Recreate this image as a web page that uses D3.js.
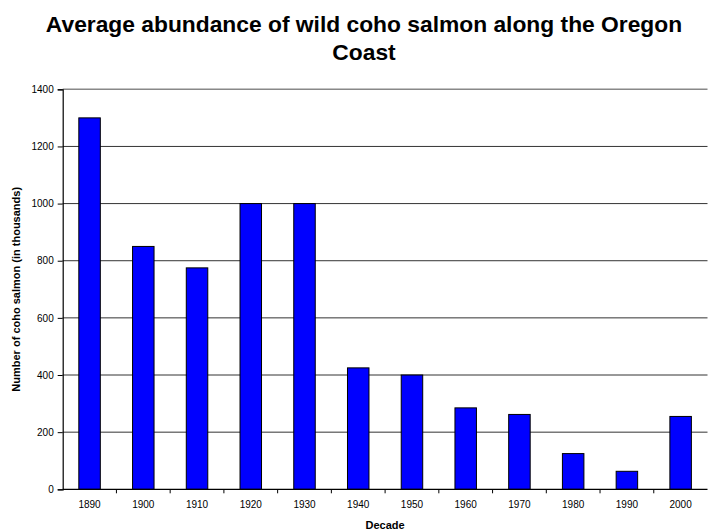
<!DOCTYPE html>
<html>
<head>
<meta charset="utf-8">
<script src="https://cdn.jsdelivr.net/npm/d3@7"></script>
<style>
  html, body { margin: 0; padding: 0; background: #fff; }
  svg { display: block; font-family: "Liberation Sans", Arial, sans-serif; }
</style>
</head>
<body>
<svg id="chart" width="708" height="532"></svg>
<script>
// Decades on the x axis
const decades = ["1890", "1900", "1910", "1920", "1930", "1940", "1950", "1960", "1970", "1980", "1990", "2000"];
// Average abundance, thousands of fish
const abundance = [1300, 850, 775, 1000, 1000, 425, 400, 285, 262, 125, 63, 255];
// Value-axis ticks
const yTicks = [0, 200, 400, 600, 800, 1000, 1200, 1400];

const titleLines = ["Average abundance of wild coho salmon along the Oregon", "Coast"];

const svg = d3.select("#chart");
const plotLeft = 62.7, plotRight = 707.5, plotTop = 89.3, plotBottom = 489.3;

const x = d3.scaleBand()
  .domain(decades)
  .range([plotLeft, plotRight])
  .paddingInner(0.6)
  .paddingOuter(0.3);

const y = d3.scaleLinear().domain([0, 1400]).range([plotBottom, plotTop]);

// Horizontal gridlines
svg.append("g")
  .selectAll("line")
  .data(yTicks.filter(t => t > 0 && t < 1400))
  .join("line")
  .attr("x1", plotLeft).attr("x2", plotRight)
  .attr("y1", d => y(d)).attr("y2", d => y(d))
  .attr("stroke", "#333").attr("stroke-width", 1);

// Top frame line
svg.append("line")
  .attr("x1", plotLeft).attr("x2", plotRight)
  .attr("y1", y(1400)).attr("y2", y(1400))
  .attr("stroke", "#888").attr("stroke-width", 1.5);

// Bars
svg.append("g")
  .selectAll("rect")
  .data(decades.map((d, i) => ({ decade: d, value: abundance[i] })))
  .join("rect")
  .attr("x", d => x(d.decade))
  .attr("width", x.bandwidth())
  .attr("y", d => y(d.value))
  .attr("height", d => y(0) - y(d.value))
  .attr("fill", "#0000ff")
  .attr("stroke", "#000")
  .attr("stroke-width", 1);

// Y axis
const yAxis = svg.append("g")
  .attr("transform", `translate(${plotLeft},0)`)
  .call(d3.axisLeft(y).tickValues(yTicks).tickSize(5).tickPadding(4).tickFormat(d3.format("d")));
yAxis.select(".domain").attr("stroke", "#000").attr("stroke-width", 1.2);
yAxis.selectAll(".tick line").attr("stroke", "#000");
yAxis.selectAll("text").attr("font-size", 10).attr("fill", "#000")
  .attr("font-family", "'Liberation Sans', Arial, sans-serif");

// X axis: category labels, ticks at category boundaries
const xAxis = svg.append("g").attr("transform", `translate(0,${plotBottom})`);
xAxis.append("line")
  .attr("x1", plotLeft).attr("x2", plotRight)
  .attr("stroke", "#000").attr("stroke-width", 1.2);
xAxis.selectAll("line.sep")
  .data(decades.slice(1))
  .join("line")
  .attr("class", "sep")
  .attr("x1", d => x(d) - x.step() * x.paddingInner() / 2)
  .attr("x2", d => x(d) - x.step() * x.paddingInner() / 2)
  .attr("y1", 0).attr("y2", 4)
  .attr("stroke", "#000");
xAxis.selectAll("text")
  .data(decades)
  .join("text")
  .attr("x", d => x(d) + x.bandwidth() / 2)
  .attr("y", 19)
  .attr("text-anchor", "middle")
  .attr("font-size", 10)
  .text(d => d);

// Title
svg.append("text")
  .attr("text-anchor", "middle")
  .attr("font-size", 22.8)
  .attr("font-weight", "bold")
  .selectAll("tspan")
  .data(titleLines)
  .join("tspan")
  .attr("x", 364)
  .attr("y", (d, i) => 31.5 + i * 28)
  .text(d => d);

// Axis titles
svg.append("text")
  .attr("x", (plotLeft + plotRight) / 2)
  .attr("y", 529)
  .attr("text-anchor", "middle")
  .attr("font-size", 11)
  .attr("font-weight", "bold")
  .text("Decade");

svg.append("text")
  .attr("transform", `translate(20,${(plotTop + plotBottom) / 2}) rotate(-90)`)
  .attr("text-anchor", "middle")
  .attr("font-size", 11)
  .attr("font-weight", "bold")
  .text("Number of coho salmon (in thousands)");
</script>
</body>
</html>
